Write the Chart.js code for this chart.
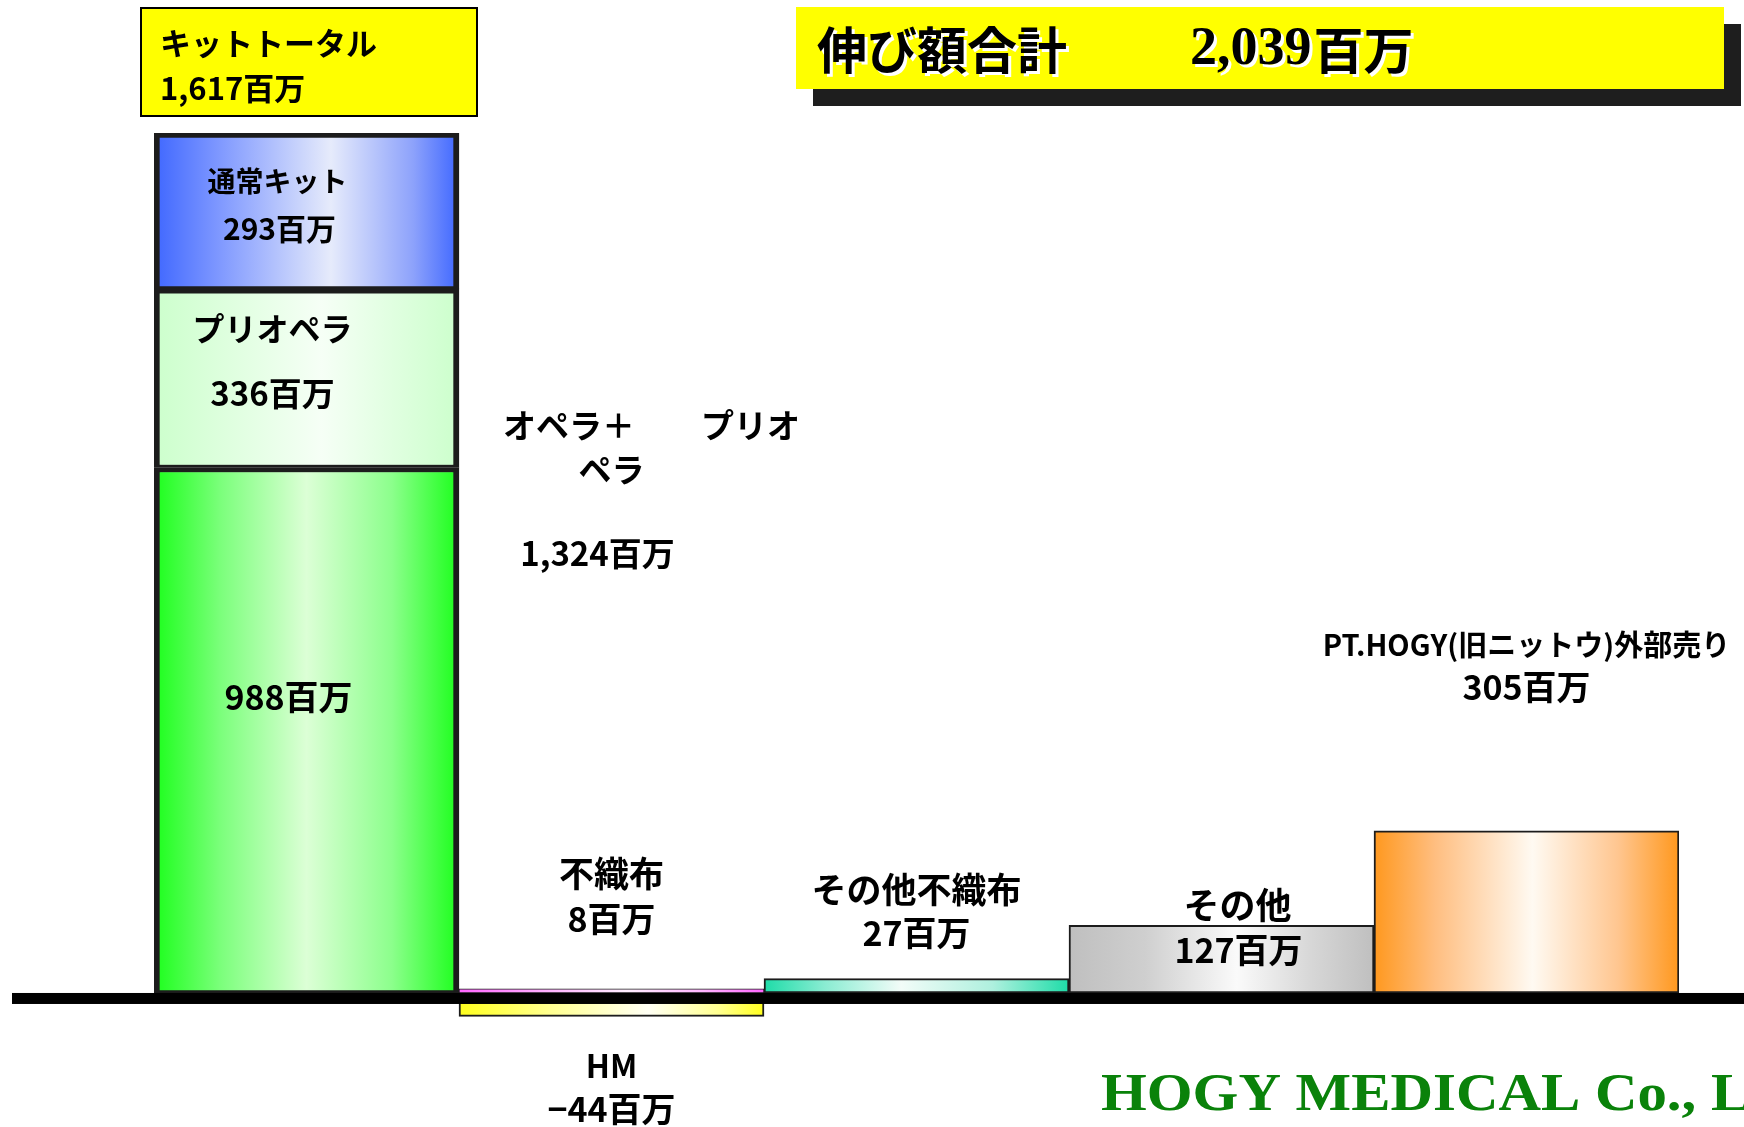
<!DOCTYPE html>
<html>
<head>
<meta charset="utf-8">
<script src="https://cdn.jsdelivr.net/npm/chart.js@4.4.1/dist/chart.umd.min.js"></script>
<style>
  body { margin: 0; background: #fff; }
  canvas { display: block; }
</style>
</head>
<body>
<canvas id="chart_growth" width="1744" height="1127"></canvas>
<script>
// data (millions of yen)
var categories = ['キット', '不織布 / HM', 'その他不織布', 'その他', 'PT.HOGY'];
var lowerValues = [988, 8, 27, 127, 305];        // オペラ+プリオペラ, 不織布, その他不織布, その他, PT.HOGY
var middleValues = [336, -44, null, null, null]; // プリオペラ, HM
var upperValues = [293, null, null, null, null]; // 通常キット
var kitTotal = '1,617百万';
var growthTotal = '2,039';

// gradient stops: edge -> pale center -> edge
var fills = {
  green:      [[0, '#1cff1c'], [0.22, '#7cff7c'], [0.5, '#dcffd6'], [0.78, '#8cff8c'], [1, '#1cff1c']],
  lightGreen: [[0, '#ccffcc'], [0.55, '#f6fff6'], [1, '#ccffcc']],
  blue:       [[0, '#3f67ff'], [0.2, '#7b95ff'], [0.58, '#e6ebfb'], [0.85, '#8da2fb'], [1, '#3f67ff']],
  pink:       [[0, '#ff66ff'], [0.3, '#ffb4ff'], [0.55, '#ffeeff'], [0.8, '#ffb4ff'], [1, '#ff66ff']],
  yellow:     [[0, '#ffff1e'], [0.3, '#ffff90'], [0.62, '#fffff4'], [0.85, '#ffff90'], [1, '#ffff1e']],
  teal:       [[0, '#1edca8'], [0.2, '#8aecd2'], [0.45, '#f2fcf8'], [0.75, '#aef0de'], [1, '#1edca8']],
  gray:       [[0, '#bfbfbf'], [0.25, '#cfcfcf'], [0.55, '#fafafa'], [0.8, '#d6d6d6'], [1, '#bfbfbf']],
  orange:     [[0, '#ff981e'], [0.2, '#ffbe80'], [0.52, '#fffaf2'], [0.8, '#ffc690'], [1, '#ff981e']]
};
var lowerFills = ['green', 'pink', 'teal', 'gray', 'orange'];
var middleFills = ['lightGreen', 'yellow', 'gray', 'gray', 'gray'];
var upperFills = ['blue', 'blue', 'blue', 'blue', 'blue'];

function makeFill(names) {
  return function(context) {
    var stops = fills[names[context.dataIndex]];
    var chart = context.chart;
    var area = chart.chartArea;
    if (!area) return stops[0][1];
    var cx = chart.scales.x.getPixelForValue(context.dataIndex);
    var half = (area.right - area.left) / categories.length / 2;
    var g = chart.ctx.createLinearGradient(cx - half, 0, cx + half, 0);
    for (var i = 0; i < stops.length; i++) g.addColorStop(stops[i][0], stops[i][1]);
    return g;
  };
}

function barBorder(context) {
  if (context.dataIndex === 0) return {top: 5, left: 6, right: 6, bottom: 3};
  if (context.dataIndex === 1 && context.datasetIndex === 0) return 1;
  return 2;
}

var jp = '"Noto Sans CJK JP", "Noto Sans", sans-serif';

// text labels, x given relative to the bar's centre
var labels = [
  {text: '通常キット', index: 0, dx: -29, y: 181, size: 28},
  {text: '293百万', index: 0, dx: -27, y: 229, size: 30},
  {text: 'プリオペラ', index: 0, dx: -34, y: 329, size: 32},
  {text: '336百万', index: 0, dx: -34, y: 393, size: 33},
  {text: '988百万', index: 0, dx: -18, y: 697, size: 34},
  {text: 'オペラ＋　　プリオ', index: 1, dx: 40, y: 425, size: 33},
  {text: 'ペラ', index: 1, dx: 0, y: 469, size: 33},
  {text: '1,324百万', index: 1, dx: -14, y: 553, size: 33},
  {text: '不織布', index: 1, dx: 0, y: 874, size: 35},
  {text: '8百万', index: 1, dx: 0, y: 919, size: 34},
  {text: 'HM', index: 1, dx: 0, y: 1066, size: 32},
  {text: '−44百万', index: 1, dx: 0, y: 1109, size: 34},
  {text: 'その他不織布', index: 2, dx: 0, y: 890, size: 35},
  {text: '27百万', index: 2, dx: 0, y: 933, size: 34},
  {text: 'その他', index: 3, dx: 16, y: 905, size: 36},
  {text: '127百万', index: 3, dx: 17, y: 950, size: 34},
  {text: 'PT.HOGY(旧ニットウ)外部売り', index: 4, dx: 0, y: 645, size: 29},
  {text: '305百万', index: 4, dx: 0, y: 687, size: 34}
];

var decorations = {
  id: 'decorations',
  beforeDraw: function(chart) {
    var ctx = chart.ctx;
    ctx.save();
    ctx.fillStyle = '#ffffff';
    ctx.fillRect(0, 0, chart.width, chart.height);
    ctx.restore();
  },
  afterDatasetsDraw: function(chart) {
    var ctx = chart.ctx;
    var y0 = chart.scales.y.getPixelForValue(0);
    ctx.save();
    // zero band, drawn just under the zero value
    ctx.fillStyle = '#000000';
    ctx.fillRect(12, y0, chart.width - 12, 11);

    // kit total box
    ctx.fillStyle = '#ffff00';
    ctx.fillRect(141, 8, 336, 108);
    ctx.strokeStyle = '#000000';
    ctx.lineWidth = 2;
    ctx.strokeRect(141, 8, 336, 108);
    ctx.fillStyle = '#000000';
    ctx.textBaseline = 'middle';
    ctx.textAlign = 'left';
    ctx.font = 'bold 31px ' + jp;
    ctx.fillText('キットトータル', 160, 43);
    ctx.fillText(kitTotal, 160, 88);

    // title box with shadow
    ctx.fillStyle = '#1e1e1e';
    ctx.fillRect(813, 24, 928, 82);
    ctx.fillStyle = '#ffff00';
    ctx.fillRect(796, 7, 928, 82);
    var drawShadowed = function(text, x, y, font) {
      ctx.font = font;
      ctx.fillStyle = '#ffffff';
      ctx.fillText(text, x + 3, y + 3);
      ctx.fillStyle = '#000000';
      ctx.fillText(text, x, y);
      return ctx.measureText(text).width;
    };
    drawShadowed('伸び額合計', 817, 50, 'bold 50px ' + jp);
    var w = drawShadowed(growthTotal, 1190, 50, 'bold 54px "Liberation Serif", serif');
    drawShadowed('百万', 1190 + w + 2, 50, 'bold 50px ' + jp);

    // bar labels
    ctx.textAlign = 'center';
    ctx.fillStyle = '#000000';
    labels.forEach(function(l) {
      var cx = chart.scales.x.getPixelForValue(l.index) + l.dx;
      ctx.font = 'bold ' + l.size + 'px ' + jp;
      ctx.fillText(l.text, cx, l.y);
    });

    // company mark
    ctx.textAlign = 'left';
    ctx.fillStyle = '#0a820a';
    ctx.font = 'bold 52px "Liberation Serif", serif';
    var mw = ctx.measureText('HOGY MEDICAL Co., ').width;
    ctx.translate(1101, 1097);
    ctx.scale(610 / mw, 1);
    ctx.fillText('HOGY MEDICAL Co., Ltd.', 0, 0);
    ctx.restore();
  }
};

var ctx_growth = document.getElementById('chart_growth').getContext('2d');
var chart_growth = new Chart(ctx_growth, {
  type: 'bar',
  data: {
    labels: categories,
    datasets: [{
      label: 'lower',
      data: lowerValues,
      backgroundColor: makeFill(lowerFills),
      borderColor: '#1c1c1c',
      borderWidth: barBorder,
      borderSkipped: false
    }, {
      label: 'middle',
      data: middleValues,
      backgroundColor: makeFill(middleFills),
      borderColor: '#1c1c1c',
      borderWidth: barBorder,
      borderSkipped: false
    }, {
      label: 'upper',
      data: upperValues,
      backgroundColor: makeFill(upperFills),
      borderColor: '#1c1c1c',
      borderWidth: barBorder,
      borderSkipped: false
    }]
  },
  options: {
    responsive: false,
    animation: false,
    devicePixelRatio: 1,
    categoryPercentage: 1,
    barPercentage: 1,
    layout: {
      padding: {left: 154, right: 65, top: 133, bottom: 0}
    },
    scales: {
      x: { stacked: true, display: false },
      y: { stacked: true, display: false, min: -252, max: 1617 }
    },
    plugins: {
      legend: { display: false },
      tooltip: { enabled: false }
    }
  },
  plugins: [decorations]
});
</script>
</body>
</html>
